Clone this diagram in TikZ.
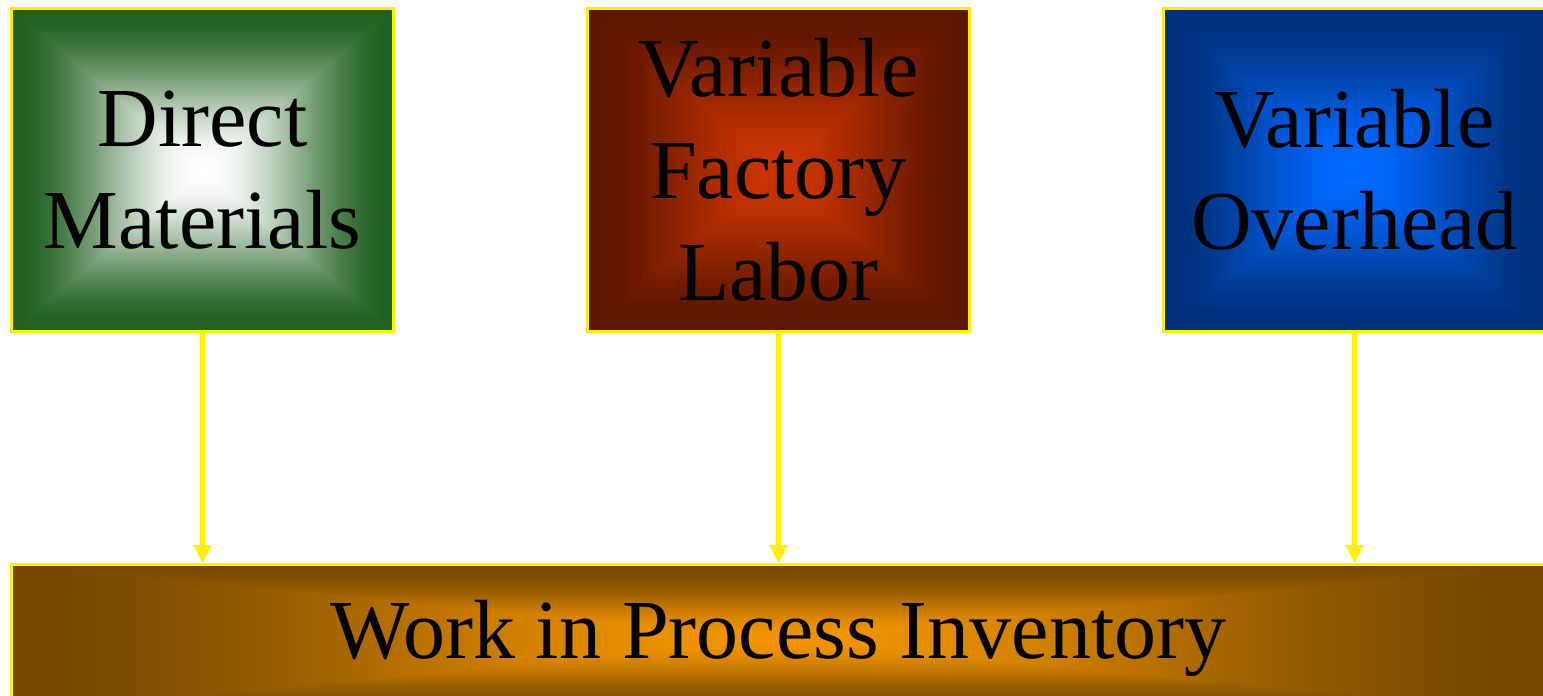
\documentclass[tikz,border=0pt]{standalone}
\usepackage{fontspec}
\setmainfont{Liberation Serif}
\usetikzlibrary{arrows,arrows.meta}

\definecolor{matin}{RGB}{255,255,255}
\definecolor{matout}{RGB}{33,96,33}
\definecolor{labin}{RGB}{202,52,0}
\definecolor{labout}{RGB}{92,22,0}
\definecolor{ovhin}{RGB}{0,104,255}
\definecolor{ovhout}{RGB}{0,48,122}
\definecolor{wipin}{RGB}{242,148,0}
\definecolor{wipout}{RGB}{118,72,0}

% square "from the centre" glow: t = max(|x|,|y|), smoothstepped
\pgfdeclarefunctionalshading[glowin,glowout]{boxglow}{\pgfpoint{-50bp}{-50bp}}{\pgfpoint{50bp}{50bp}}{%
  \pgfshadecolortorgb{glowin}{\gin}\pgfshadecolortorgb{glowout}{\gout}%
  \pgfmathsetmacro\gdr{\goutred-\ginred}%
  \pgfmathsetmacro\gdg{\goutgreen-\gingreen}%
  \pgfmathsetmacro\gdb{\goutblue-\ginblue}%
}{%
  abs exch abs 2 copy lt {exch} if pop
  25 div dup 1 gt {pop 1} if
  dup dup mul exch 2 mul 3 exch sub mul
  dup \gdr\space mul \ginred\space add
  exch dup \gdg\space mul \gingreen\space add
  exch \gdb\space mul \ginblue\space add
}

\begin{document}
\begin{tikzpicture}[x=0.5pt,y=-0.5pt,
    glow/.style 2 args={shading=boxglow,
      /utils/exec={\colorlet{glowin}{#1}\colorlet{glowout}{#2}}},
    costbox/.style={draw=yellow,line width=1.5pt,minimum width=191pt,
      minimum height=161.5pt,inner sep=0pt,align=center,
      font=\fontsize{42}{51}\selectfont},
    wipbox/.style={costbox,minimum width=767pt,minimum height=74pt},
    flow/.style={yellow,line width=2.5pt,-{Triangle[length=9pt,width=8.5pt]}}]
	\useasboundingbox (0,0) rectangle (1543,696);
	\node[costbox,glow={matin}{matout}] (dm) at (202.5,170) {Direct\\Materials};
	\node[costbox,glow={labin}{labout}] (dl) at (778.5,170) {Variable\\Factory\\Labor};
	\node[costbox,glow={ovhin}{ovhout}] (oh) at (1354.5,170) {Variable\\Overhead};
	\node[wipbox,glow={wipin}{wipout}] (wip) at (778.5,638.5) {Work in Process Inventory};
	\foreach \c in {dm,dl,oh}
	\draw[flow] (\c) -- (\c |- wip.north);
\end{tikzpicture}
\end{document}
